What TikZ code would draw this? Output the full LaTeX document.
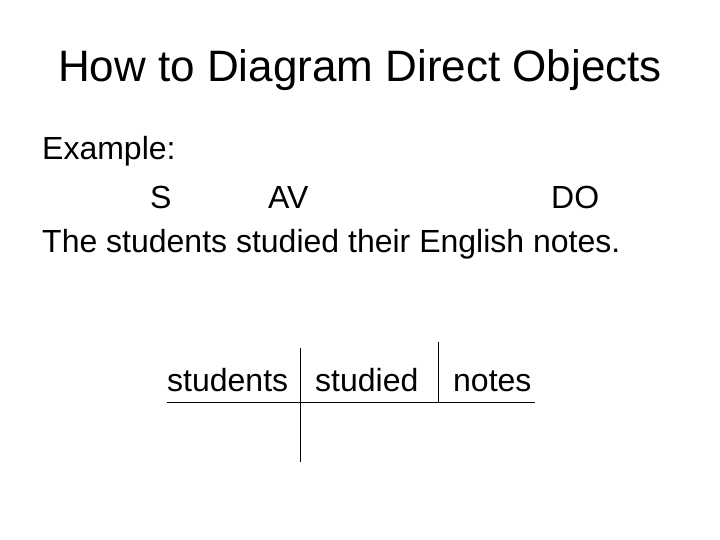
\documentclass[tikz,border=0pt]{standalone}
\usepackage{fontspec}
\setmainfont{Liberation Sans}
\tikzset{
  txt/.style={anchor=base west, inner sep=0pt, font=\fontsize{32}{38}\selectfont},
  ttl/.style={anchor=base, inner sep=0pt, font=\fontsize{44}{52}\selectfont},
  dline/.style={line width=1pt, black}
}
\begin{document}
\begin{tikzpicture}[x=1pt,y=-1pt]
\fill[white] (0,0) rectangle (720,540);
\useasboundingbox (0,0) rectangle (720,540);
\node[ttl] (title) at (360,82) {How to Diagram Direct Objects};
\node[txt] (example) at (42,160) {Example:};
\node[txt] (s) at (150,208) {S};
\node[txt] (av) at (268,208) {AV};
\node[txt] (do) at (551,208) {DO};
\node[txt] (sent) at (42,252) {The students studied their English notes.};
\node[txt] (w1) at (167,391) {students};
\node[txt] (w2) at (315,391) {studied};
\node[txt] (w3) at (453,391) {notes};
\coordinate (hl) at (167,402);
\coordinate (hr) at (535,402);
\coordinate (v1t) at (300,348);
\coordinate (v1b) at (300,462);
\coordinate (v2t) at (438,342);
\coordinate (v2b) at (438,402);
\draw[dline] (hl) -- (hr);
\draw[dline] (v1t) -- (v1b);
\draw[dline] (v2t) -- (v2b);
\end{tikzpicture}
\end{document}
